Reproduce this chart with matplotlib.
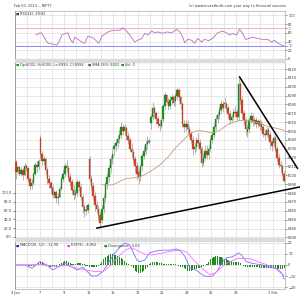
import matplotlib
matplotlib.use("Agg")
import matplotlib.pyplot as plt
from matplotlib.patches import Rectangle
import numpy as np
import pandas as pd

# NIFTY hourly candles, 7 per session, 3 Jan - 1 Feb 2013
day_names = ["3 Jan", "4", "7", "8", "9", "10", "11", "14", "15", "16", "17",
             "18", "21", "22", "23", "24", "25", "28", "29", "30", "31", "1 Feb"]
shown_days = ["3 Jan", "7", "9", "11", "15", "17", "21", "23", "25", "29", "1 Feb"]
per_day = 7

opens = [
    6015, 6004, 6009, 6002, 6006, 6000, 6011,
    6008, 5996, 5988, 5991, 6002, 6012, 6009,
    6042, 6024, 6016, 6019, 6006, 5996, 5991,
    5986, 5978, 5981, 5974, 5976, 5985, 5996,
    6002, 6011, 6008, 5998, 5993, 5983, 5978,
    5980, 5992, 5987, 5976, 5964, 5960, 5961,
    6019, 5996, 5988, 5977, 5966, 5962, 5955,
    5950, 5962, 5975, 5990, 5998, 6008, 6018,
    6030, 6033, 6037, 6041, 6046, 6055, 6050,
    6053, 6044, 6040, 6030, 6026, 6018, 6010,
    6004, 5998, 6010, 6022, 6028, 6035, 6038,
    6059, 6066, 6076, 6070, 6064, 6058, 6056,
    6064, 6078, 6091, 6083, 6078, 6085, 6088,
    6084, 6090, 6096, 6088, 6080, 6058, 6055,
    6058, 6052, 6047, 6040, 6030, 6032, 6040,
    6036, 6030, 6014, 6020, 6028, 6023, 6030,
    6040, 6046, 6055, 6064, 6068, 6074, 6080,
    6082, 6080, 6076, 6069, 6063, 6066, 6072,
    6072, 6066, 6103, 6085, 6070, 6062, 6052,
    6052, 6063, 6067, 6060, 6063, 6058, 6061,
    6058, 6054, 6047, 6045, 6051, 6046, 6038,
    6036, 6042, 6030, 6020, 6012, 6010, 6002,
]
closes = [
    6004, 6009, 6002, 6006, 6000, 6011, 6008,
    5996, 5988, 5991, 6002, 6012, 6009, 6016,
    6024, 6016, 6019, 6006, 5996, 5991, 5986,
    5978, 5981, 5974, 5976, 5985, 5996, 6002,
    6011, 6008, 5998, 5993, 5983, 5978, 5980,
    5992, 5987, 5976, 5964, 5960, 5961, 5966,
    5996, 5988, 5977, 5966, 5962, 5955, 5946,
    5962, 5975, 5990, 5998, 6008, 6018, 6024,
    6033, 6037, 6041, 6046, 6055, 6050, 6054,
    6044, 6040, 6030, 6026, 6018, 6010, 6001,
    5998, 6010, 6022, 6028, 6035, 6038, 6039,
    6066, 6076, 6070, 6064, 6058, 6056, 6062,
    6078, 6091, 6083, 6078, 6085, 6088, 6082,
    6090, 6096, 6088, 6080, 6058, 6055, 6058,
    6052, 6047, 6040, 6030, 6032, 6040, 6036,
    6030, 6014, 6020, 6028, 6023, 6030, 6040,
    6046, 6055, 6064, 6068, 6074, 6080, 6076,
    6080, 6076, 6069, 6063, 6066, 6072, 6070,
    6066, 6103, 6085, 6070, 6062, 6052, 6049,
    6063, 6067, 6060, 6063, 6058, 6061, 6056,
    6054, 6047, 6045, 6051, 6046, 6038, 6033,
    6042, 6030, 6020, 6012, 6010, 6002, 5994,
]
highs = [
    6017, 6011, 6010, 6009, 6008, 6014, 6013,
    6009, 5998, 5996, 6004, 6015, 6016, 6019,
    6046, 6027, 6022, 6021, 6009, 6000, 5994,
    5989, 5984, 5983, 5980, 5988, 5999, 6007,
    6014, 6017, 6012, 6003, 5996, 5989, 5985,
    5996, 5995, 5990, 5979, 5968, 5966, 5969,
    6022, 6000, 5993, 5981, 5971, 5966, 5960,
    5966, 5979, 5993, 6003, 6012, 6022, 6030,
    6036, 6041, 6045, 6051, 6060, 6058, 6058,
    6056, 6049, 6043, 6036, 6030, 6022, 6015,
    6008, 6012, 6025, 6033, 6040, 6044, 6042,
    6069, 6083, 6078, 6073, 6067, 6062, 6065,
    6080, 6094, 6092, 6087, 6089, 6092, 6091,
    6093, 6100, 6098, 6090, 6083, 6063, 6063,
    6062, 6057, 6050, 6044, 6036, 6043, 6048,
    6041, 6033, 6025, 6034, 6034, 6034, 6044,
    6049, 6059, 6068, 6072, 6078, 6085, 6084,
    6088, 6084, 6079, 6073, 6069, 6076, 6078,
    6075, 6110, 6106, 6090, 6074, 6066, 6057,
    6066, 6071, 6069, 6066, 6066, 6064, 6064,
    6062, 6058, 6052, 6055, 6054, 6049, 6041,
    6046, 6044, 6033, 6024, 6016, 6013, 6005,
]
lows = [
    5996, 6001, 6000, 5999, 5995, 5999, 6005,
    5992, 5984, 5985, 5989, 6000, 6004, 6006,
    6020, 6012, 6012, 6002, 5990, 5986, 5980,
    5974, 5974, 5969, 5966, 5974, 5983, 5993,
    5998, 6004, 5995, 5988, 5979, 5972, 5974,
    5977, 5982, 5972, 5958, 5953, 5955, 5957,
    5992, 5983, 5972, 5960, 5957, 5950, 5941,
    5946, 5958, 5970, 5985, 5993, 6003, 6013,
    6022, 6028, 6031, 6036, 6042, 6045, 6046,
    6040, 6035, 6026, 6021, 6014, 6004, 5995,
    5990, 5994, 6005, 6018, 6024, 6030, 6035,
    6052, 6062, 6066, 6058, 6053, 6050, 6053,
    6060, 6075, 6080, 6074, 6075, 6081, 6078,
    6078, 6086, 6084, 6075, 6054, 6049, 6050,
    6048, 6043, 6036, 6023, 6025, 6028, 6032,
    6025, 6009, 6011, 6017, 6018, 6019, 6027,
    6036, 6042, 6051, 6059, 6064, 6070, 6071,
    6076, 6073, 6065, 6058, 6060, 6063, 6066,
    6062, 6063, 6080, 6064, 6057, 6046, 6043,
    6048, 6059, 6056, 6057, 6053, 6054, 6051,
    6050, 6043, 6040, 6043, 6041, 6031, 6028,
    6033, 6026, 6016, 6008, 6004, 5999, 5993,
]
volume = [0] * len(closes)  # index, no volume reported

# RSI(14) (candle index, value)
rsi_idx = [11.5, 13.7, 14.7, 16.6, 18.3, 21.1, 23.4, 24.5, 26.3, 28, 29.7, 30.8,
           32.5, 33.6, 35.4, 37.6, 39.3, 41, 43.3, 45, 47.3, 49, 51.3, 53.6,
           56.4, 59.3, 61, 62.7, 65, 67.8, 69.5, 71.8, 73.5, 75.2, 77.5, 79.2,
           80.9, 83.7, 86, 88.9, 91.7, 93.5, 95.1, 96.3, 98, 100.3, 102, 103.7,
           106, 107.6, 109.9, 112.2, 115, 117.9, 120.2, 121.9, 123.6, 125.9,
           127.6, 129.3, 131, 132.8, 135, 137.9, 140.7, 143.6, 145.9, 147.6,
           149.2, 151.5, 153]
rsi_val = [55, 60, 59, 47, 36, 34, 32, 39, 55, 58, 60, 47,
           37, 50, 45, 39, 36, 52, 50, 45, 36, 52, 59, 64,
           66, 66, 71, 66, 55, 39, 43, 47, 59, 55, 64, 60,
           62, 59, 62, 60, 68, 62, 51, 37, 45, 43, 36, 47,
           39, 45, 42, 47, 60, 64, 60, 55, 58, 55,
           68, 59, 45, 47, 50, 47, 45, 45, 39, 43,
           37, 32, 29.82]

# MACD(26,12) and EXP(9) lines
macd_idx = [0, 5.2, 9.2, 13.7, 17.7, 21.1, 28, 34.8, 38.2, 43.3, 46.2, 49.6,
            53.6, 56.4, 59.3, 62.1, 65, 66.7, 68.9, 70.6, 73.5, 76.3, 79.2,
            83.7, 87.7, 91.7, 93.5, 96.3, 99.1, 103.1, 106.5, 108.8, 112.2,
            115, 117.9, 120.2, 123.6, 127.1, 128.7, 131.5, 135, 140.7, 144.6,
            148.6, 152, 153]
macd_val = [0, 0, -3, 3, 0, -4.5, 2, -4.5, -2, -10, -10, -6,
            4, 11, 16, 20, 18, 12, 5, 3, 4.5, 11, 12.5,
            13.5, 13.5, 14.5, 13.5, 8, -2, -5, -9, -10.5, -10,
            -5, 3, 6.5, 7.5, 11, 9, 3, 1.5, 0, -2,
            -3.5, -8.5, -12.98]
exp_idx = [0, 13.7, 22.3, 29.1, 36.5, 45, 49.6, 53.6, 56.4, 59.3, 62.1, 65,
           67.8, 70.6, 73.5, 78, 83.7, 88.9, 93.5, 97.4, 100.8, 104.8, 107.6,
           110.4, 113.3, 116.1, 118.9, 121.9, 126.5, 133.3, 139, 146.3, 150.5, 153]
exp_val = [0, 0.5, -1.5, -0.5, -3.5, -6, -6, -1, 4, 9, 13, 15.5,
           14.5, 12, 10, 9, 11, 12.5, 13.5, 12, 5.5, -1, -5,
           -8.5, -7.5, -4, 0, 3, 6, 6, 2.5, -1.5, -5, -9.952]
divergence = [
    0, 0, 0, 0, 0, 0, 0, -0.5, -1, -1, -0.5, 0,
    1, 2, 3, 3, 2, 1,
    -1, -1.5, -1.5, -1, -1, -0.5, 0, 0.5,
    2, 3, 4, 4, 3, 2, 1, 0.5,
    1, 1.5, 2, 1.5, 1, 0.5, -0.5, -1, -1.5, -2, -2, -1.5, -1.5, -1,
    1, 3, 5, 7, 8.5, 9.5, 10, 10, 9.5, 9, 8, 7, 6, 5, 3.5,
    2, 1, 0, -1,
    -3, -5, -6, -7, -7, -6.5, -5.5, -4, -2,
    1, 2, 3, 3, 3, 2.5, 2, 1.5, 1,
    1, 1, 0.5, 0.5, 1, 1, 0.5, 0, -1, -1.5, -2,
    -3, -4, -5, -5.5, -5, -4.5, -4, -3.5, -3, -3, -2, -1,
    0, 1, 3, 5, 6, 7, 8, 8, 7.5, 7,
    6, 5, 5, 4.5, 4, 3.5, 3, 2.5, 3, 3, 2,
    0, -1, -1.5, -2, -2, -2, -2, -2, -2, -2, -2.5, -2.5, -2.5, -2.5,
    -3, -3, -3, -3, -3, -3.5, -3.5, -3.5, -3.5, -3.5, -3.03,
]

# hand drawn trend lines (candle index, price)
upper_trend_idx = [127.6, 160.6]
upper_trend_px = [6111, 6008]
lower_trend_idx = [46.2, 161.7]
lower_trend_px = [5940.5, 5986.8]

n = len(closes)
x = np.arange(n)
o = np.array(opens, float)
c = np.array(closes, float)
sma50 = pd.Series(c).rolling(50).mean()

TXT = "#333333"
GRID = "#e2e2e2"
FS = 2.5

fig = plt.figure(figsize=(3, 3), dpi=100)
L, R = 15 / 300, 285 / 300


def fy(px):
    return 1 - px / 300


ax_rsi = fig.add_axes([L, fy(59), R - L, 48 / 300])
ax = fig.add_axes([L, fy(238), R - L, 176 / 300])
ax_macd = fig.add_axes([L, fy(289), R - L, 48 / 300])

# volume twin first: twinx() moves the host ticks to the left
axv = ax.twinx()

day_edges = [d * per_day - 0.5 for d in range(len(day_names))]
tick_pos = [day_edges[day_names.index(d)] for d in shown_days]

for a in (ax_rsi, ax, ax_macd):
    a.set_xlim(-0.5, n - 0.5)
    for e in day_edges[1:]:
        a.axvline(e, color=GRID, lw=0.55, zorder=0)
    for s in a.spines.values():
        s.set_color("#aaaaaa")
        s.set_linewidth(0.5)
    a.spines["left"].set_color("#777777")
    a.yaxis.tick_right()
    a.tick_params(axis="y", labelsize=FS, length=1.5, width=0.4, pad=0.8,
                  colors=TXT)
    a.tick_params(axis="x", labelsize=FS, length=0, pad=1.5, colors=TXT)
    a.set_xticks(tick_pos)
    a.set_xticklabels([])

# RSI panel
ax_rsi.set_ylim(0, 110)
ax_rsi.set_yticks([0, 20, 30, 40, 60, 70, 80, 100])
for v in (20, 40, 60, 80, 100):
    ax_rsi.axhline(v, color=GRID, lw=0.55, zorder=0)
ax_rsi.axhline(70, color="#ffb0b0", lw=0.7)
ax_rsi.axhline(30, color="#8a8aff", lw=0.7)
for lab in ax_rsi.get_yticklabels():
    if lab.get_text() == "70":
        lab.set_color("#ff8080")
    if lab.get_text() == "30":
        lab.set_color("#6666ff")
ax_rsi.plot(rsi_idx, rsi_val, color="#b86cc8", lw=0.6)
hot, = ax_rsi.plot(rsi_idx, rsi_val, color="red", lw=0.7)
hot.set_clip_path(Rectangle((-0.5, 70), n, 50, transform=ax_rsi.transData))

# price panel
ax.set_ylim(5929.3, 6127.9)
ax.set_yticks(np.arange(5930, 6121, 10))
for v in np.arange(5930, 6121, 10):
    ax.axhline(v, color=GRID, lw=0.55, zorder=0)

up = c >= o
body_lo = np.minimum(o, c)
body_h = np.maximum(np.abs(c - o), 0.8)
ax.vlines(x, lows, highs, color="#9a9a9a", lw=0.5, zorder=2)
ax.bar(x, body_h, bottom=body_lo, width=0.85,
       color=np.where(up, "#1f9a1f", "#e0471c"),
       edgecolor=np.where(up, "#0b5e0b", "#8a2a0e"), lw=0.2, zorder=3)
ax.plot(x, sma50, color="#c9a27e", lw=0.65, zorder=4)
ax.plot(upper_trend_idx, upper_trend_px, color="black", lw=1.1,
        clip_on=False, zorder=5)
ax.plot(lower_trend_idx, lower_trend_px, color="black", lw=1.1,
        clip_on=False, zorder=5)

axv.set_ylim(-2.3, 397.7)
axv.bar(x, volume, width=0.7, color="#1f9a1f")
axv.yaxis.tick_left()
axv.set_yticks([0, 20, 40, 60, 80, 100])
axv.set_yticklabels(["0.0", "20.0", "40.0", "60.0", "80.0", "100.0"])
axv.tick_params(axis="y", labelsize=FS, length=1.5, width=0.4, pad=0.8,
                colors=TXT)
for s in axv.spines.values():
    s.set_visible(False)
ax.yaxis.tick_right()

# MACD panel
ax_macd.set_ylim(-21.8, 21.8)
ax_macd.set_yticks([-20, -10, 0, 10, 20])
for v in (-20, -10, 0, 10, 20):
    ax_macd.axhline(v, color=GRID, lw=0.55, zorder=0)
ax_macd.bar(x, divergence, width=0.6, color="#1e8c1e", zorder=2)
ax_macd.plot(macd_idx, macd_val, color="#7373ff", lw=0.6, zorder=3)
ax_macd.plot(exp_idx, exp_val, color="#ff6eff", lw=0.6, zorder=3)
ax_macd.set_xticklabels(shown_days)

# separator bands
for top in (59, 238):
    fig.add_artist(Rectangle((L, fy(top + 3)), R - L, 3 / 300,
                             transform=fig.transFigure, color="#dcdcdc"))


def ftext(px, py, s, color=TXT, ha="left"):
    fig.text(px / 300, fy(py), s, fontsize=FS, color=color, ha=ha,
             va="center")


ftext(14, 6, "Feb 03, 2013 -- NIFTY")
ftext(286, 6, "(c) www.investbulls.com your way to financial success",
      ha="right")
ftext(16, 14, "\u25a0", color="#6a1f6a")
ftext(20, 14, "RSI(14): 29.82")
ftext(16, 65, "\u25a0", color="#1f9a1f")
ftext(20, 65, "Op:6002, Hi:6005, Lo:5993, Cl:5994")
ftext(88, 65, "\u25a0", color="#8a4a1a")
ftext(92, 65, "SMA (50): 6052")
ftext(121, 65, "\u25a0", color="#1f9a1f")
ftext(125, 65, "Vol: 0")
ftext(16, 245.5, "\u25a0", color="#2222cc")
ftext(20, 245.5, "MACD(26, 12): -12.98")
ftext(67, 245.5, "\u25a0", color="#ff33ff")
ftext(71, 245.5, "EXP(9): -9.952")
ftext(104, 245.5, "\u25a0", color="#1e8c1e")
ftext(108, 245.5, "Divergence: -3.03")

fig.savefig("out.png", dpi=100)
